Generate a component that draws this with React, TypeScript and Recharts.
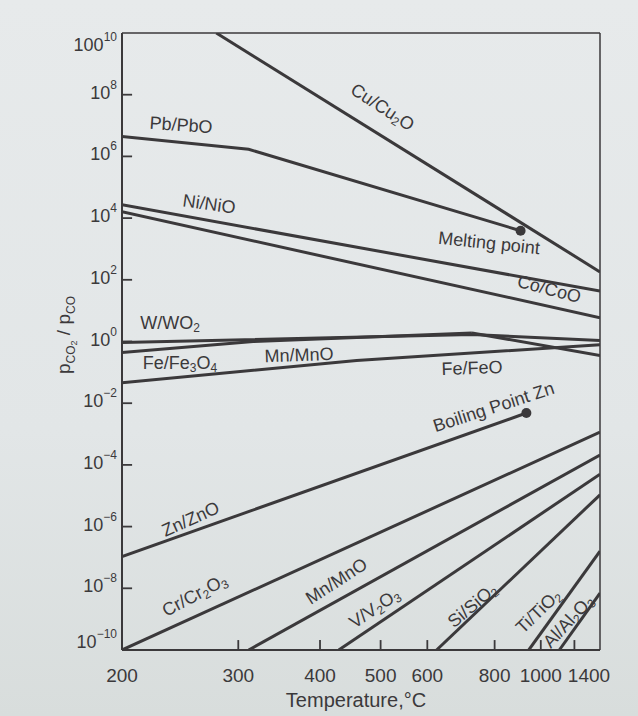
import React from "react";
import { LineChart, Line, XAxis, YAxis, ReferenceLine } from "recharts";

// temperatures in °C, ratios are pCO2/pCO
const cuTemp = [278, 1400];
const cuRatio = [1e10, 1.8e2];
const pbTemp = [200, 311, 904];
const pbRatio = [4.4e6, 1.7e6, 3.9e3];
const niTemp = [200, 1400];
const niRatio = [2.7e4, 43];
const coTemp = [200, 1400];
const coRatio = [1.6e4, 5.9];
const wTemp = [200, 723, 1400];
const wRatio = [0.93, 1.7, 1.07];
const feMagTemp = [200, 316, 723];
const feMagRatio = [0.44, 1.0, 1.9];
const feWusTemp = [723, 1400];
const feWusRatio = [1.9, 0.35];
const moTemp = [200, 457, 1400];
const moRatio = [0.046, 0.24, 0.79];
const znTemp = [200, 930];
const znRatio = [1.07e-7, 4.8e-3];
const crTemp = [200, 1400];
const crRatio = [1e-10, 1.15e-3];
const mnTemp = [311, 1400];
const mnRatio = [1e-10, 2.1e-4];
const vTemp = [428, 1400];
const vRatio = [1e-10, 5e-5];
const siTemp = [623, 1400];
const siRatio = [1e-10, 1.07e-5];
const tiTemp = [941, 1400];
const tiRatio = [1e-10, 1.6e-7];
const alTemp = [1103, 1400];
const alRatio = [1e-10, 7e-9];

const tempTicks = [200, 300, 400, 500, 600, 800, 1000, 1200, 1400];
const ratioTicks = [1e-10, 1e-8, 1e-6, 1e-4, 1e-2, 1, 1e2, 1e4, 1e6, 1e8, 1e10];

const INK = "#3b393b";
const FONT = "'Liberation Sans', Arial, Helvetica, sans-serif";

// x axis is reciprocal absolute temperature
const toX = (t: number) => -1000 / (t + 273.15);
const toC = (x: number) => Math.round(-1000 / x - 273.15);

const build = (temps: number[], ratios: number[]) =>
  temps.map((t, i) => ({ x: toX(t), y: ratios[i] }));

const series = [
  { id: "cu", data: build(cuTemp, cuRatio) },
  { id: "pb", data: build(pbTemp, pbRatio), endDot: true },
  { id: "ni", data: build(niTemp, niRatio) },
  { id: "co", data: build(coTemp, coRatio) },
  { id: "w", data: build(wTemp, wRatio) },
  { id: "feMag", data: build(feMagTemp, feMagRatio) },
  { id: "feWus", data: build(feWusTemp, feWusRatio) },
  { id: "mo", data: build(moTemp, moRatio) },
  { id: "zn", data: build(znTemp, znRatio), endDot: true },
  { id: "cr", data: build(crTemp, crRatio) },
  { id: "mn", data: build(mnTemp, mnRatio) },
  { id: "v", data: build(vTemp, vRatio) },
  { id: "si", data: build(siTemp, siRatio) },
  { id: "ti", data: build(tiTemp, tiRatio) },
  { id: "al", data: build(alTemp, alRatio) },
];

// short inward tick marks, drawn as reference segments in data space
const markX = (t: number) => [
  { x: toX(t), y: 1e-10 },
  { x: toX(t), y: 2.1e-10 },
];
const markY = (v: number) => [
  { x: toX(200), y: v },
  { x: toX(200) + 0.032, y: v },
];

const XTick = ({ x, y, payload }: any) => {
  const t = toC(payload.value);
  if (t === 1200) return <g />;
  return (
    <text x={t === 1400 ? x - 11 : x} y={y + 32} textAnchor="middle" fontSize={19} fill={INK} fontFamily={FONT}>
      {t}
    </text>
  );
};

const YTick = ({ x, y, payload }: any) => {
  const e = Math.round(Math.log10(payload.value));
  const exp = e < 0 ? `\u2212${-e}` : `${e}`;
  // the end labels sit a little inside the frame in the original
  const shift = e === 10 ? 14 : e === -10 ? -6 : 0;
  return (
    <text x={x - 5} y={y + 4 + shift} textAnchor="end" fontSize={18} fill={INK} fontFamily={FONT}>
      {e === 10 ? "100" : "10"}
      <tspan dy={-10} fontSize={12}>
        {exp}
      </tspan>
    </text>
  );
};

const EndDot = (len: number) => (p: any) =>
  p.index === len - 1 ? (
    <circle key={p.index} cx={p.cx} cy={p.cy} r={5} fill={INK} />
  ) : (
    <g key={p.index} />
  );

// [text, subscript?]
type Part = [string, boolean?];
const labels: { parts: Part[]; x: number; y: number; a: number }[] = [
  { parts: [["Cu/Cu"], ["2", true], ["O"]], x: 382, y: 108, a: 33 },
  { parts: [["Pb/PbO"]], x: 181, y: 126, a: 4 },
  { parts: [["Ni/NiO"]], x: 209, y: 205, a: 8 },
  { parts: [["Melting point"]], x: 489, y: 244, a: 6 },
  { parts: [["Co/CoO"]], x: 549, y: 290, a: 15 },
  { parts: [["W/WO"], ["2", true]], x: 170, y: 324, a: 0 },
  { parts: [["Fe/Fe"], ["3", true], ["O"], ["4", true]], x: 180, y: 364, a: 0 },
  { parts: [["Mn/MnO"]], x: 299, y: 356, a: -2 },
  { parts: [["Fe/FeO"]], x: 472, y: 369, a: -2 },
  { parts: [["Boiling Point Zn"]], x: 494, y: 408, a: -18 },
  { parts: [["Zn/ZnO"]], x: 191, y: 520, a: -24 },
  { parts: [["Cr/Cr"], ["2", true], ["O"], ["3", true]], x: 195, y: 596, a: -28 },
  { parts: [["Mn/MnO"]], x: 337, y: 582, a: -33 },
  { parts: [["V/V"], ["2", true], ["O"], ["3", true]], x: 375, y: 609, a: -34 },
  { parts: [["Si/SiO"], ["2", true]], x: 473, y: 606, a: -40 },
  { parts: [["Ti/TiO"], ["2", true]], x: 539, y: 612, a: -44 },
  { parts: [["Al/Al"], ["2", true], ["O"], ["3", true]], x: 569, y: 622, a: -47 },
];

const ChemLabel = ({ parts, x, y, a }: { parts: Part[]; x: number; y: number; a: number }) => {
  let shift = 0;
  return (
    <text
      x={x}
      y={y}
      textAnchor="middle"
      dominantBaseline="middle"
      fontSize={18}
      fill={INK}
      fontFamily={FONT}
      transform={`rotate(${a} ${x} ${y})`}
    >
      {parts.map(([s, sub], i) => {
        const dy = (sub ? 5 : 0) - shift;
        shift = sub ? 5 : 0;
        return (
          <tspan key={i} dy={dy} fontSize={sub ? 12 : 18}>
            {s}
          </tspan>
        );
      })}
    </text>
  );
};

export default function App() {
  return (
    <div
      style={{
        position: "absolute",
        left: 0,
        top: 0,
        width: 638,
        height: 716,
        background: "linear-gradient(180deg, #e7eaeb 0%, #e2e6e7 60%, #d8dddc 100%)",
        overflow: "hidden",
      }}
    >
      <LineChart width={638} height={716} margin={{ top: 33, right: 38, left: 0, bottom: 0 }}>
        <XAxis
          dataKey="x"
          type="number"
          domain={[toX(200), toX(1400)]}
          ticks={tempTicks.map(toX)}
          interval={0}
          allowDataOverflow
          height={66}
          tickSize={0}
          tickMargin={0}
          tickLine={false}
          axisLine={{ stroke: INK, strokeWidth: 2 }}
          tick={<XTick />}
        />
        <YAxis
          type="number"
          scale="log"
          domain={[1e-10, 1e10]}
          ticks={ratioTicks}
          interval={0}
          allowDataOverflow
          width={122}
          tickSize={0}
          tickMargin={0}
          tickLine={false}
          axisLine={{ stroke: INK, strokeWidth: 2 }}
          tick={<YTick />}
        />
        <ReferenceLine y={1e10} stroke={INK} strokeWidth={1.5} />
        <ReferenceLine x={toX(1400)} stroke={INK} strokeWidth={1.5} />
        {tempTicks.slice(1, -1).map((t) => (
          <ReferenceLine key={`tx${t}`} segment={markX(t)} stroke={INK} strokeWidth={1.8} />
        ))}
        {ratioTicks.slice(1, -1).map((v) => (
          <ReferenceLine key={`ty${v}`} segment={markY(v)} stroke={INK} strokeWidth={1.8} />
        ))}
        {series.map((s) => (
          <Line
            key={s.id}
            data={s.data}
            dataKey="y"
            type="linear"
            stroke={INK}
            strokeWidth={3}
            dot={s.endDot ? EndDot(s.data.length) : false}
            activeDot={false}
            isAnimationActive={false}
          />
        ))}
      </LineChart>
      <svg
        width={638}
        height={716}
        style={{ position: "absolute", left: 0, top: 0, pointerEvents: "none" }}
      >
        {labels.map((l, i) => (
          <ChemLabel key={i} {...l} />
        ))}
        <text
          x={70}
          y={335}
          textAnchor="middle"
          fontSize={19}
          fill={INK}
          fontFamily={FONT}
          transform="rotate(-90 70 335)"
        >
          p<tspan dy={5} fontSize={12}>CO</tspan>
          <tspan dy={2} fontSize={9}>2</tspan>
          <tspan dy={-7} fontSize={19}> / p</tspan>
          <tspan dy={5} fontSize={12}>CO</tspan>
        </text>
        <text x={356} y={707} textAnchor="middle" fontSize={20} fill={INK} fontFamily={FONT}>
          Temperature,°C
        </text>
      </svg>
    </div>
  );
}
